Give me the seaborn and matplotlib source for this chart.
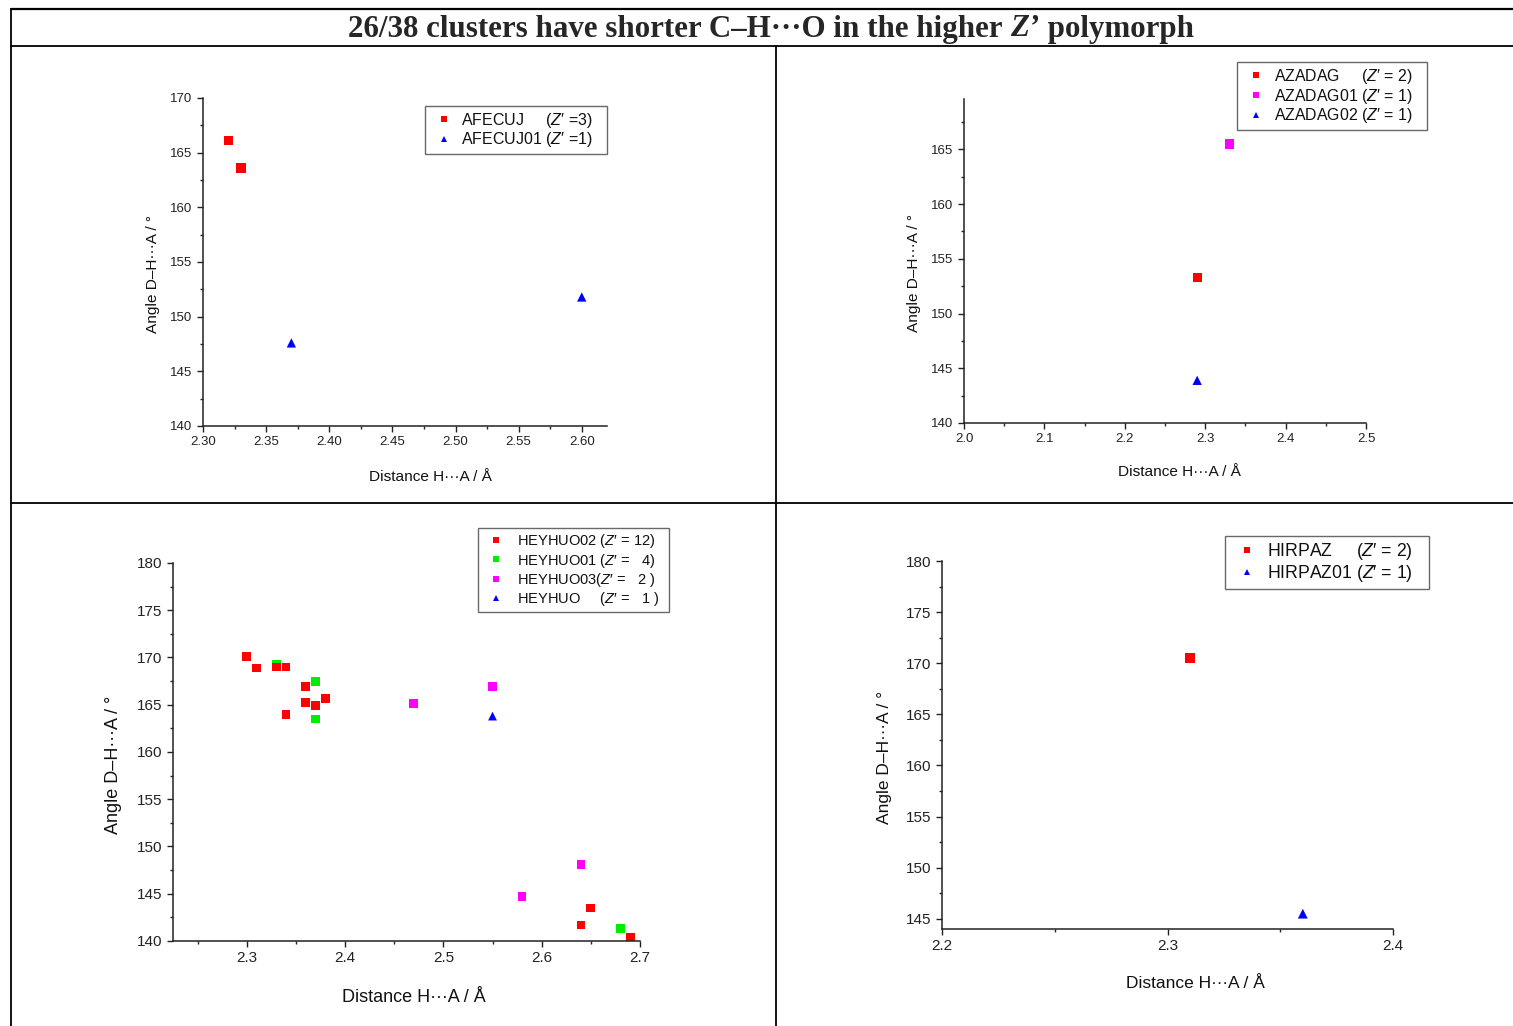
import numpy as np
import pandas as pd
import matplotlib
matplotlib.use('Agg')
import matplotlib.pyplot as plt
import seaborn as sns
from matplotlib.lines import Line2D
from matplotlib.ticker import MultipleLocator, FormatStrFormatter

# ---------------- data ----------------
p1_labels = ["AFECUJ     ($Z$′ =3)", "AFECUJ01 ($Z$′ =1)"]
afecuj_x = [2.32, 2.33]
afecuj_y = [166.1, 163.6]
afecuj01_x = [2.37, 2.60]
afecuj01_y = [147.6, 151.8]

p2_labels = ["AZADAG     ($Z$′ = 2)", "AZADAG01 ($Z$′ = 1)", "AZADAG02 ($Z$′ = 1)"]
azadag_x = [2.29]
azadag_y = [153.3]
azadag01_x = [2.33]
azadag01_y = [165.5]
azadag02_x = [2.29]
azadag02_y = [143.9]

p3_labels = ["HEYHUO02 ($Z$′ = 12)", "HEYHUO01 ($Z$′ =   4)",
             "HEYHUO03($Z$′ =   2 )", "HEYHUO     ($Z$′ =   1 )"]
heyhuo02_x = [2.30, 2.31, 2.33, 2.34, 2.36, 2.36, 2.37, 2.38, 2.34, 2.64, 2.65, 2.69]
heyhuo02_y = [170.1, 168.9, 169.0, 169.0, 166.9, 165.2, 164.9, 165.7, 164.0, 141.7, 143.5, 140.4]
heyhuo01_x = [2.33, 2.37, 2.37, 2.68]
heyhuo01_y = [169.3, 167.5, 163.5, 141.3]
heyhuo03_x = [2.47, 2.55, 2.64, 2.58]
heyhuo03_y = [165.1, 166.9, 148.1, 144.7]
heyhuo_x = [2.55]
heyhuo_y = [163.8]

p4_labels = ["HIRPAZ     ($Z$′ = 2)", "HIRPAZ01 ($Z$′ = 1)"]
hirpaz_x = [2.31]
hirpaz_y = [170.5]
hirpaz01_x = [2.36]
hirpaz01_y = [145.5]

RED, GREEN, MAGENTA, BLUE = "#FF0000", "#00EE00", "#FF00FF", "#0000FF"

# ---------------- style ----------------
sns.set_theme(style='ticks')
plt.rcParams['font.family'] = ['Liberation Sans', 'DejaVu Sans']
plt.rcParams['mathtext.fontset'] = 'custom'
plt.rcParams['mathtext.rm'] = 'Liberation Sans'
plt.rcParams['mathtext.it'] = 'Liberation Sans:italic'
plt.rcParams['axes.linewidth'] = 1.0

W, H = 1513, 1026
fig = plt.figure(figsize=(W / 100, H / 100), dpi=100)
fig.patch.set_facecolor('white')


def ax_px(l, t, r, b):
    return fig.add_axes([l / W, 1 - b / H, (r - l) / W, (b - t) / H])


def make_df(groups):
    rows = []
    for lab, xs, ys in groups:
        for x, y in zip(xs, ys):
            rows.append({'x': x, 'y': y, 'series': lab})
    return pd.DataFrame(rows)


def panel(ax, groups, order, colors, markers, xlim, ylim, xmaj, xmin, xfmt,
          ymaj, ymin, tick_fs, label_fs, size, xlab_xy, ylab_xy, leg):
    df = make_df(groups)
    sns.scatterplot(data=df, x='x', y='y', hue='series', style='series',
                    hue_order=order, style_order=order,
                    palette=dict(zip(order, colors)),
                    markers=dict(zip(order, markers)),
                    s=size, edgecolor='none', linewidth=0, ax=ax, legend=True)
    ax.set_xlim(*xlim)
    ax.set_ylim(*ylim)
    ax.xaxis.set_major_locator(MultipleLocator(xmaj))
    ax.xaxis.set_minor_locator(MultipleLocator(xmin))
    ax.xaxis.set_major_formatter(FormatStrFormatter(xfmt))
    ax.yaxis.set_major_locator(MultipleLocator(ymaj))
    ax.yaxis.set_minor_locator(MultipleLocator(ymin))
    ax.tick_params(which='major', direction='out', length=4, width=1,
                   labelsize=tick_fs, colors='#222222')
    ax.tick_params(which='minor', direction='out', length=2.5, width=1)
    sns.despine(ax=ax)
    for sp in ['left', 'bottom']:
        ax.spines[sp].set_color('#222222')
        ax.spines[sp].set_linewidth(1.1)
    ax.set_xlabel("Distance H\u00b7\u00b7\u00b7A / Å", fontsize=label_fs, color='#111111')
    ax.set_ylabel("Angle D–H\u00b7\u00b7\u00b7A / °", fontsize=label_fs, color='#111111')
    ax.xaxis.set_label_coords(xlab_xy[0] / W, 1 - xlab_xy[1] / H, transform=fig.transFigure)
    ax.yaxis.set_label_coords(ylab_xy[0] / W, 1 - ylab_xy[1] / H, transform=fig.transFigure)
    ax.xaxis.label.set_va('center')
    ax.yaxis.label.set_va('center')

    handles, labels = ax.get_legend_handles_labels()
    labels = [l + ' ' * leg['pad'] for l in labels]
    lg = ax.legend(handles, labels, loc='upper right',
                   bbox_to_anchor=(leg['right'] / W, 1 - leg['top'] / H),
                   bbox_transform=fig.transFigure, borderaxespad=0,
                   frameon=True, fancybox=False, fontsize=leg['fs'],
                   markerscale=0.65, handletextpad=leg['htp'], borderpad=0.3,
                   labelspacing=leg['ls'], handlelength=leg['hl'])
    lg.get_frame().set_edgecolor('#444444')
    lg.get_frame().set_linewidth(1.0)
    for t in lg.get_texts():
        t.set_color('#111111')


# Panel 1
ax1 = ax_px(203, 98, 607, 426)
panel(ax1,
      [(p1_labels[0], afecuj_x, afecuj_y), (p1_labels[1], afecuj01_x, afecuj01_y)],
      p1_labels, [RED, BLUE], ['s', '^'],
      (2.30, 2.62), (140, 170), 0.05, 0.025, '%.2f', 5, 2.5,
      9.5, 11.1, 45, (430, 477), (153, 274),
      dict(right=607, top=106, fs=11.5, hl=1.75, htp=0.2, ls=0.02, pad=3))

# Panel 2
ax2 = ax_px(964, 99, 1366, 423)
panel(ax2,
      [(p2_labels[0], azadag_x, azadag_y), (p2_labels[1], azadag01_x, azadag01_y),
       (p2_labels[2], azadag02_x, azadag02_y)],
      p2_labels, [RED, MAGENTA, BLUE], ['s', 's', '^'],
      (2.0, 2.5), (140, 169.6), 0.1, 0.05, '%.1f', 5, 2.5,
      9.5, 11.1, 45, (1179, 472), (914, 273),
      dict(right=1427, top=62, fs=11.4, hl=1.8, htp=0.23, ls=0.05, pad=3))

# Panel 3 (green first so red sits on top)
ax3 = ax_px(173, 563, 640, 941)
panel(ax3,
      [(p3_labels[1], heyhuo01_x, heyhuo01_y), (p3_labels[0], heyhuo02_x, heyhuo02_y),
       (p3_labels[2], heyhuo03_x, heyhuo03_y), (p3_labels[3], heyhuo_x, heyhuo_y)],
      p3_labels, [RED, GREEN, MAGENTA, BLUE], ['s', 's', 's', '^'],
      (2.225, 2.7), (140, 180), 0.1, 0.05, '%.1f', 5, 2.5,
      11, 13, 40, (414, 998), (114, 765),
      dict(right=669, top=528, fs=10.5, hl=1.85, htp=0.55, ls=0.08, pad=2))

# Panel 4
ax4 = ax_px(942, 561, 1393, 929)
panel(ax4,
      [(p4_labels[0], hirpaz_x, hirpaz_y), (p4_labels[1], hirpaz01_x, hirpaz01_y)],
      p4_labels, [RED, BLUE], ['s', '^'],
      (2.2, 2.4), (144, 180), 0.1, 0.05, '%.1f', 5, 2.5,
      11, 12.5, 50, (1195, 983), (885, 757),
      dict(right=1429, top=536, fs=12.7, hl=1.9, htp=0.19, ls=0.05, pad=3))

# ---------------- table frame ----------------
def hline(y, x0, x1, lw):
    fig.add_artist(Line2D([x0 / W, x1 / W], [1 - y / H, 1 - y / H],
                          transform=fig.transFigure, color='black', lw=lw))


def vline(x, y0, y1, lw):
    fig.add_artist(Line2D([x / W, x / W], [1 - y0 / H, 1 - y1 / H],
                          transform=fig.transFigure, color='black', lw=lw))


hline(9, 11, W, 1.6)
hline(46, 11, W, 1.3)
hline(503, 11, W, 1.3)
vline(11, 9, H, 1.3)
vline(776, 46, H, 1.3)

# ---------------- title (mixed styles) ----------------
renderer = fig.canvas.get_renderer()
parts = [("26/38 clusters have shorter C–H\u00b7\u00b7\u00b7O in the higher ", 'normal'),
         ("Z’", 'italic'),
         (" polymorph", 'normal')]
fs = 22.3
texts, widths = [], []
for s, st in parts:
    t = fig.text(0, 0, s, family=['Liberation Serif', 'DejaVu Serif'],
                 weight='bold', style=st, fontsize=fs, va='center', ha='left')
    widths.append(t.get_window_extent(renderer).width)
    texts.append(t)
x0 = 771 - sum(widths) / 2
for t, w in zip(texts, widths):
    t.set_position((x0 / W, 1 - 29 / H))
    x0 += w

fig.savefig('out.png', dpi=100, facecolor='white')
